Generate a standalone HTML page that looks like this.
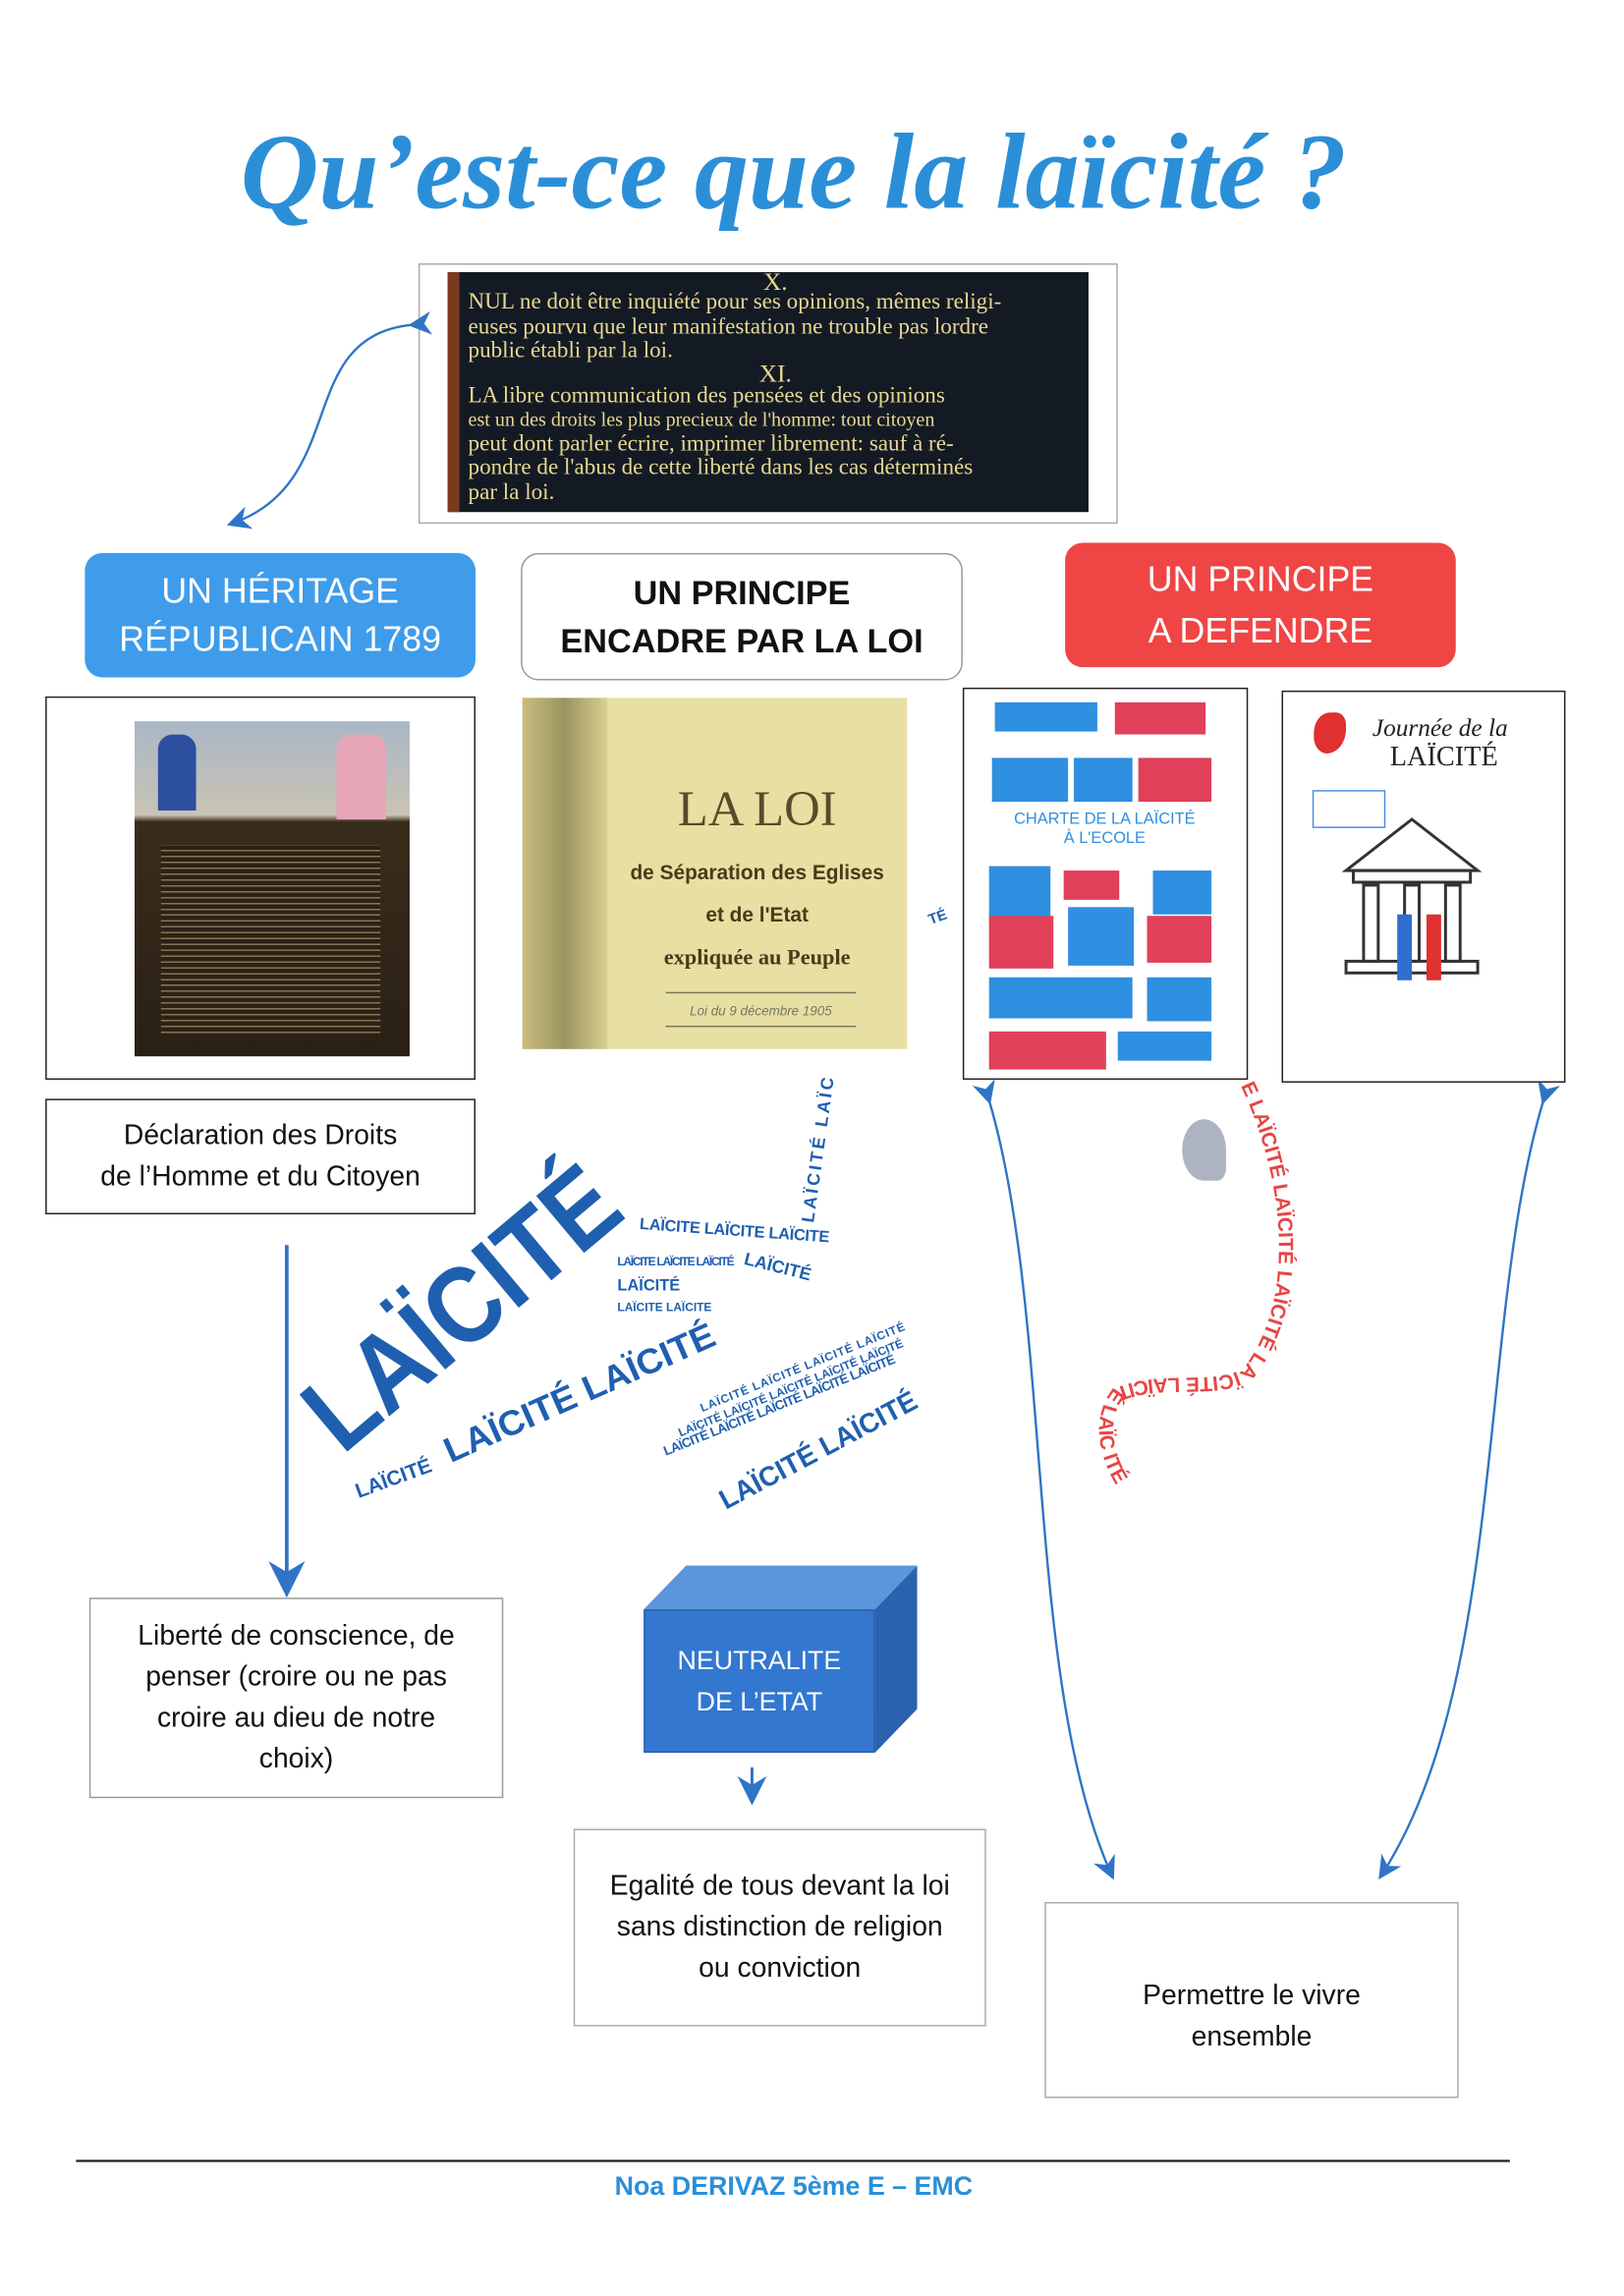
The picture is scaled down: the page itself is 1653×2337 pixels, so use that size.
<!DOCTYPE html>
<html><head><meta charset="utf-8">
<style>
html,body{margin:0;padding:0;background:#fff;}
#pg{position:relative;width:1653px;height:2337px;overflow:hidden;background:#fff;}
#s{position:absolute;left:0;top:0;width:1110px;height:1570px;transform:scale(1.4892);transform-origin:0 0;font-family:"Liberation Sans",sans-serif;}
.a{position:absolute;box-sizing:border-box;}
.c{display:flex;align-items:center;justify-content:center;text-align:center;}
.box{border:1.5px solid #222;background:#fff;}
.gbox{border:1.5px solid #aaa;background:#fff;}
</style></head><body><div id="pg"><div id="s">

<div class="a" style="left:0;top:76px;width:1085px;text-align:center;font-family:'Liberation Serif',serif;font-style:italic;font-weight:bold;font-size:74px;color:#2b8fd8;">Qu’est-ce que la laïcité ?</div>

<div class="a gbox" style="left:286px;top:180px;width:478px;height:178px;"></div>
<div class="a" style="left:306px;top:186px;width:438px;height:164px;background:#141a24;color:#e8d890;font-family:'Liberation Serif',serif;font-size:15.5px;line-height:16.5px;padding:1px 4px 0 14px;white-space:nowrap;overflow:hidden;">
<div style="text-align:center;font-size:17px;line-height:12px">X.</div>
NUL ne doit être inquiété pour ses opinions, mêmes religi-<br>euses pourvu que leur manifestation ne trouble pas lordre<br>public établi par la loi.
<div style="text-align:center;font-size:17px;line-height:14px">XI.</div>
LA libre communication des pensées et des opinions<br><span style="font-size:13.5px">est un des droits les plus precieux de l'homme: tout citoyen</span><br>peut dont parler écrire, imprimer librement: sauf à ré-<br>pondre de l'abus de cette liberté dans les cas déterminés<br>par la loi.</div>
<div class="a" style="left:306px;top:186px;width:8px;height:164px;background:#7a3a20;"></div>

<svg class="a" style="left:0;top:0" width="1110" height="1570">
<defs><marker id="ar" markerWidth="10" markerHeight="10" refX="8" refY="5" orient="auto"><path d="M0,0 L10,5 L0,10 L3,5z" fill="#2f74c6"/></marker></defs>
<g fill="none" stroke="#2f74c6" stroke-width="1.6">
<path d="M282,222 C200,230 240,330 158,358" marker-end="url(#ar)" marker-start="url(#ar)"/>
<path d="M196,851 L196,1087" stroke-width="2.5" marker-end="url(#ar)"/>
<path d="M514,1208 L514,1230" stroke-width="2" marker-end="url(#ar)"/>
<path d="M676,752 C720,900 700,1150 760,1282" marker-end="url(#ar)" marker-start="url(#ar)"/>
<path d="M1055,752 C1010,900 1030,1150 944,1282" marker-end="url(#ar)" marker-start="url(#ar)"/>
</g>
<line x1="52" y1="1477" x2="1032" y2="1477" stroke="#222" stroke-width="1.5"/>
<g font-family="Liberation Sans,sans-serif" font-weight="bold" fill="#1f5fb0">
<text x="234" y="995" font-size="74" textLength="255" lengthAdjust="spacingAndGlyphs" transform="rotate(-40 234 995)">LAÏCITÉ</text>
<text x="245" y="1024" font-size="14" transform="rotate(-20 245 1024)">LAÏCITÉ</text>
<text x="308" y="1000" font-size="24" textLength="200" lengthAdjust="spacingAndGlyphs" transform="rotate(-24 308 1000)">LAÏCITÉ LAÏCITÉ</text>
<text x="437" y="840" font-size="11" textLength="130" transform="rotate(4 437 840)">LAÏCITE LAÏCITE LAÏCITE</text>
<text x="422" y="865" font-size="8" textLength="80">LAÏCITE LAÏCITE LAÏCITÉ</text>
<text x="508" y="864" font-size="12" transform="rotate(14 508 864)">LAÏCITÉ</text>
<text x="422" y="882" font-size="11">LAÏCITÉ</text>
<text x="422" y="896" font-size="8">LAÏCITE LAÏCITE</text>
<text x="556" y="836" font-size="12" textLength="100" transform="rotate(-82 556 836)">LAÏCITÉ LAÏC</text>
<text x="455" y="995" font-size="9" textLength="170" transform="rotate(-22 455 995)">LAÏCITÉ LAÏCITÉ LAÏCITÉ LAÏCITÉ LAÏCITÉ</text>
<text x="465" y="982" font-size="8" textLength="165" transform="rotate(-22 465 982)">LAÏCITÉ LAÏCITÉ LAÏCITÉ LAÏCITÉ LAÏCITÉ</text>
<text x="480" y="965" font-size="8" textLength="150" transform="rotate(-22 480 965)">LAÏCITÉ LAÏCITÉ LAÏCITÉ LAÏCITÉ</text>
<text x="496" y="1032" font-size="19" textLength="150" lengthAdjust="spacingAndGlyphs" transform="rotate(-28 496 1032)">LAÏCITÉ LAÏCITÉ</text>
<text x="636" y="632" font-size="10" transform="rotate(-20 636 632)">TÉ</text>
</g>
</svg>

<div class="a c" style="left:58px;top:378px;width:267px;height:85px;border-radius:12px;background:#3f9ceb;color:#fff;font-size:24px;line-height:33px;">UN HÉRITAGE<br>RÉPUBLICAIN 1789</div>
<div class="a c" style="left:356px;top:378px;width:302px;height:87px;border-radius:12px;border:1.5px solid #999;background:#fff;color:#111;font-weight:bold;font-size:23px;line-height:33px;">UN PRINCIPE<br>ENCADRE PAR LA LOI</div>
<div class="a c" style="left:728px;top:371px;width:267px;height:85px;border-radius:12px;background:#ef4545;color:#fff;font-size:24px;line-height:35px;">UN PRINCIPE<br>A DEFENDRE</div>

<div class="a box" style="left:31px;top:476px;width:294px;height:262px;"></div>
<div class="a" style="left:92px;top:493px;width:188px;height:229px;background:linear-gradient(#a9b7c7 0,#c9c3b3 28%,#3a2c1c 30%,#2a2016 100%);"></div>
<div class="a" style="left:110px;top:578px;width:150px;height:130px;background:repeating-linear-gradient(#2b2218 0,#2b2218 3px,#8a7450 3px,#8a7450 4px);"></div>
<div class="a" style="left:108px;top:502px;width:26px;height:52px;background:#2d4fa0;border-radius:10px 10px 0 0"></div>
<div class="a" style="left:230px;top:502px;width:34px;height:58px;background:#e6a6b8;border-radius:10px 10px 0 0"></div>

<div class="a" style="left:357px;top:477px;width:263px;height:240px;background:#e8dfa2;"></div>
<div class="a" style="left:357px;top:477px;width:58px;height:240px;background:linear-gradient(90deg,#c8bc80,#9c9460 50%,#d8cf90);"></div>
<div class="a" style="left:415px;top:535px;width:205px;text-align:center;color:#5a4a2a;font-family:'Liberation Serif',serif;font-size:34px;">LA LOI</div>
<div class="a" style="left:415px;top:582px;width:205px;text-align:center;color:#4a3a1a;font-weight:bold;font-size:14px;line-height:29px;font-family:'Liberation Sans Narrow','Liberation Sans',sans-serif;">de Séparation des Eglises<br>et de l'Etat<br><span style="font-family:'Liberation Serif',serif;font-size:15px">expliquée au Peuple</span></div>
<div class="a" style="left:455px;top:678px;width:130px;height:24px;border-top:1px solid #776;border-bottom:1px solid #776;text-align:center;font-size:9px;line-height:24px;color:#776;font-style:italic">Loi du 9 décembre 1905</div>

<div class="a box" style="left:658px;top:470px;width:195px;height:268px;"></div>
<div class="a" style="left:680px;top:480px;width:70px;height:20px;background:#2f8fe0"></div>
<div class="a" style="left:762px;top:480px;width:62px;height:22px;background:#e0405a"></div>
<div class="a" style="left:678px;top:518px;width:52px;height:30px;background:#2f8fe0"></div>
<div class="a" style="left:734px;top:518px;width:40px;height:30px;background:#2f8fe0"></div>
<div class="a" style="left:778px;top:518px;width:50px;height:30px;background:#e0405a"></div>
<div class="a" style="left:670px;top:554px;width:170px;text-align:center;font-size:11px;line-height:13px;color:#2f8fe0">CHARTE DE LA LAÏCITÉ<br>À L'ECOLE</div>
<div class="a" style="left:676px;top:592px;width:42px;height:38px;background:#2f8fe0"></div>
<div class="a" style="left:727px;top:595px;width:38px;height:20px;background:#e0405a"></div>
<div class="a" style="left:788px;top:595px;width:40px;height:30px;background:#2f8fe0"></div>
<div class="a" style="left:676px;top:626px;width:44px;height:36px;background:#e0405a"></div>
<div class="a" style="left:730px;top:620px;width:45px;height:40px;background:#2f8fe0"></div>
<div class="a" style="left:784px;top:626px;width:44px;height:32px;background:#e0405a"></div>
<div class="a" style="left:676px;top:668px;width:98px;height:28px;background:#2f8fe0"></div>
<div class="a" style="left:784px;top:668px;width:44px;height:30px;background:#2f8fe0"></div>
<div class="a" style="left:676px;top:705px;width:80px;height:26px;background:#e0405a"></div>
<div class="a" style="left:764px;top:705px;width:64px;height:20px;background:#2f8fe0"></div>

<div class="a box" style="left:876px;top:472px;width:194px;height:268px;"></div>
<div class="a" style="left:898px;top:487px;width:22px;height:28px;background:#e03030;border-radius:50% 30% 60% 40%"></div>
<div class="a" style="left:938px;top:488px;font-family:'Liberation Serif',serif;font-style:italic;font-size:17px;color:#222">Journée de la</div>
<div class="a" style="left:950px;top:507px;font-family:'Liberation Serif',serif;font-size:19px;color:#222">LAÏCITÉ</div>
<div class="a" style="left:897px;top:540px;width:50px;height:26px;border:1.5px solid #4b8fe0"></div>
<svg class="a" style="left:910px;top:555px" width="110" height="120"><g fill="none" stroke="#333" stroke-width="2"><path d="M10,40 L55,5 L100,40 Z"/><rect x="15" y="40" width="80" height="8"/><rect x="22" y="50" width="10" height="52"/><rect x="50" y="50" width="10" height="52"/><rect x="78" y="50" width="10" height="52"/><rect x="10" y="102" width="90" height="8"/></g><rect x="45" y="70" width="10" height="45" fill="#2f6fd0"/><rect x="65" y="70" width="10" height="45" fill="#e03030"/></svg>

<div class="a box c" style="left:31px;top:751px;width:294px;height:79px;font-size:19px;line-height:28px;color:#111">Déclaration des Droits<br>de l’Homme et du Citoyen</div>

<div class="a" style="left:808px;top:765px;width:30px;height:42px;background:#8a93a6;border-radius:50% 50% 20% 50%;opacity:.7"></div>
<svg class="a" style="left:730px;top:730px" width="180" height="310"><defs><path id="rp" d="M118,12 C150,80 155,160 120,205 C100,218 60,205 30,220 C15,240 20,270 40,295"/></defs><text font-family="Liberation Sans,sans-serif" font-size="14" font-weight="bold" fill="#e84545"><textPath href="#rp">E LAÏCITÉ LAÏCITÉ LAÏCITÉ LAÏCITÉ LAÏCITÉ LAÏC ITÉ</textPath></text></svg>

<div class="a box c" style="left:61px;top:1092px;width:283px;height:137px;border-color:#999;font-size:19px;line-height:28px;color:#111">Liberté de conscience, de<br>penser (croire ou ne pas<br>croire au dieu de notre<br>choix)</div>

<div class="a" style="left:440px;top:1100px;width:158px;height:98px;background:#3377d0;border:1px solid #2a5ea8"></div>
<div class="a" style="left:440px;top:1070px;width:187px;height:30px;background:#5b95dc;clip-path:polygon(29px 0,187px 0,158px 30px,0 30px)"></div>
<div class="a" style="left:598px;top:1070px;width:29px;height:128px;background:#2a62b0;clip-path:polygon(29px 0,29px 98px,0 128px,0 30px)"></div>
<div class="a c" style="left:440px;top:1100px;width:158px;height:98px;color:#fff;font-size:18px;line-height:28px">NEUTRALITE<br>DE L’ETAT</div>

<div class="a gbox c" style="left:392px;top:1250px;width:282px;height:135px;font-size:19px;line-height:28px;color:#111">Egalité de tous devant la loi<br>sans distinction de religion<br>ou conviction</div>
<div class="a gbox c" style="left:714px;top:1300px;width:283px;height:134px;font-size:19px;line-height:28px;color:#111;padding-top:24px">Permettre le vivre<br>ensemble</div>

<div class="a" style="left:0;top:1484px;width:1085px;text-align:center;font-weight:bold;font-size:18px;color:#2a8fd8">Noa DERIVAZ 5ème E – EMC</div>
</div></div></body></html>
